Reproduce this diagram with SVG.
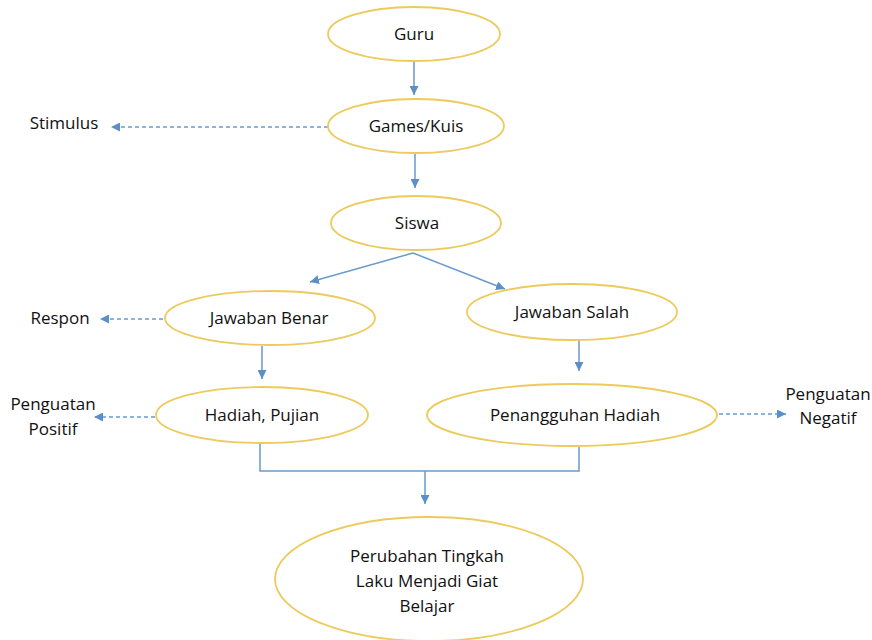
<svg xmlns="http://www.w3.org/2000/svg" width="872" height="640" viewBox="0 0 872 640">
<style>
.n{fill:#fff;stroke:#ecca5c;stroke-width:1.8}
.t{font-family:"Open Sans","Liberation Sans",sans-serif;font-size:17px;fill:#111;text-anchor:middle;dominant-baseline:central}
.c{fill:none;stroke:#6a9acb;stroke-width:1.5}
.d{stroke-dasharray:4,3}
</style>
<defs>
<marker id="ah" viewBox="0 0 10 10" refX="10" refY="5" markerWidth="9" markerHeight="9" markerUnits="userSpaceOnUse" orient="auto">
<path d="M0,0 L10,5 L0,10 Z" fill="#5b8fc7"/>
</marker>
</defs>
<rect width="872" height="640" fill="#fff"/>
<g id="connectors">
<line class="c" x1="414" y1="61" x2="414" y2="95" marker-end="url(#ah)"/>
<line class="c" x1="415" y1="153" x2="415" y2="188" marker-end="url(#ah)"/>
<line class="c d" x1="328" y1="127" x2="111" y2="127" marker-end="url(#ah)"/>
<line class="c" x1="413" y1="253" x2="310" y2="282" marker-end="url(#ah)"/>
<line class="c" x1="413" y1="253" x2="505" y2="289" marker-end="url(#ah)"/>
<line class="c d" x1="163" y1="319" x2="100" y2="319" marker-end="url(#ah)"/>
<line class="c" x1="262" y1="346" x2="262" y2="379" marker-end="url(#ah)"/>
<line class="c d" x1="155" y1="417" x2="94" y2="417" marker-end="url(#ah)"/>
<line class="c" x1="579" y1="339" x2="579" y2="371" marker-end="url(#ah)"/>
<line class="c d" x1="719" y1="414" x2="786" y2="414" marker-end="url(#ah)"/>
<polyline class="c" points="260,443 260,471 579,471 579,447"/>
<line class="c" x1="425" y1="471" x2="425" y2="504" marker-end="url(#ah)"/>
</g>
<g id="guru"><ellipse class="n" cx="414" cy="34" rx="86" ry="27"/><text class="t" x="414" y="33">Guru</text></g>
<g id="games"><ellipse class="n" cx="416" cy="126" rx="88" ry="27"/><text class="t" x="416" y="125">Games/Kuis</text></g>
<g id="siswa"><ellipse class="n" cx="416" cy="223" rx="85" ry="27"/><text class="t" x="417" y="222">Siswa</text></g>
<g id="stimulus"><text class="t" x="64" y="122">Stimulus</text></g>
<g id="benar"><ellipse class="n" cx="270" cy="318" rx="105" ry="27"/><text class="t" x="269" y="317">Jawaban Benar</text></g>
<g id="respon"><text class="t" x="60" y="317">Respon</text></g>
<g id="salah"><ellipse class="n" cx="572" cy="312" rx="105" ry="28"/><text class="t" x="572" y="311">Jawaban Salah</text></g>
<g id="hadiah"><ellipse class="n" cx="262" cy="415" rx="106" ry="28"/><text class="t" x="262" y="414">Hadiah, Pujian</text></g>
<g id="positif"><text class="t" x="53" y="403">Penguatan</text><text class="t" x="53" y="428">Positif</text></g>
<g id="penangguhan"><ellipse class="n" cx="572" cy="415" rx="145" ry="31"/><text class="t" x="575" y="414">Penangguhan Hadiah</text></g>
<g id="negatif"><text class="t" x="828" y="393">Penguatan</text><text class="t" x="828" y="417">Negatif</text></g>
<g id="perubahan"><ellipse class="n" cx="429" cy="579" rx="154" ry="62"/><text class="t" x="427" y="555">Perubahan Tingkah</text><text class="t" x="427" y="580">Laku Menjadi Giat</text><text class="t" x="427" y="605">Belajar</text></g>
</svg>
